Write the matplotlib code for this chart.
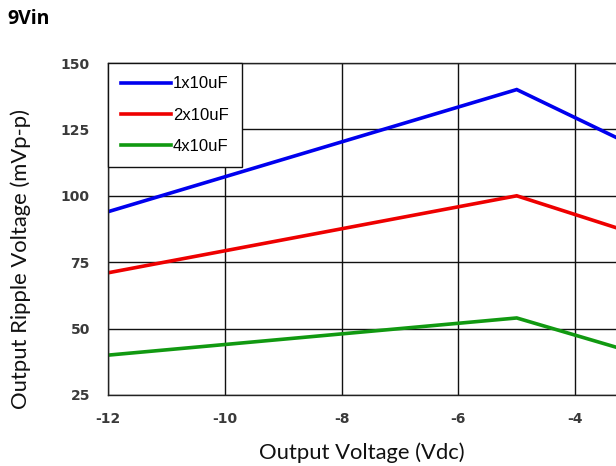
import matplotlib
matplotlib.use("Agg")
import matplotlib.pyplot as plt

plt.rcParams["axes.unicode_minus"] = False

x_vals = [-12, -5, -3.3]
series_names = ["1x10uF", "2x10uF", "4x10uF"]
y_1x = [94, 140, 122]
y_2x = [71, 100, 88]
y_4x = [40, 54, 43]
colors = ["#0000ee", "#ee0000", "#119911"]
x_ticks = [-12, -10, -8, -6, -4]
y_ticks = [25, 50, 75, 100, 125, 150]

fig = plt.figure(figsize=(6.16, 4.66), dpi=100)
ax = fig.add_axes([0.1753, 0.1524, 0.8247, 0.7124])

for ys, name, c in zip([y_1x, y_2x, y_4x], series_names, colors):
    ax.plot(x_vals, ys, color=c, lw=2.6, label=name, solid_joinstyle="miter")

ax.set_xlim(-12, -3.3)
ax.set_ylim(25, 150)
ax.set_xticks(x_ticks)
ax.set_yticks(y_ticks)
ax.grid(True, color="#111111", lw=1.0)
ax.set_axisbelow(True)
for s in ["left", "bottom", "top"]:
    ax.spines[s].set_color("#222222")
    ax.spines[s].set_linewidth(1.0)
ax.spines["right"].set_visible(False)
ax.tick_params(axis="x", length=0, pad=12, labelsize=10, labelcolor="#3a3a3a")
ax.tick_params(axis="y", length=0, pad=13, labelsize=10, labelcolor="#3a3a3a")
for lab in ax.get_xticklabels() + ax.get_yticklabels():
    lab.set_fontweight("bold")
    lab.set_family("DejaVu Sans")

ax.set_xlabel("Output Voltage (Vdc)", fontsize=15.8, family="Lato", color="#111111")
ax.set_ylabel("Output Ripple Voltage (mVp-p)", fontsize=15.8, family="Lato", color="#111111")
ax.xaxis.set_label_coords(0.5, -0.143)
ax.yaxis.set_label_coords(-0.152, 0.41)

leg = ax.legend(loc="upper left", bbox_to_anchor=(0.0, 1.0), frameon=True, fancybox=False,
                edgecolor="#111111", framealpha=1, borderaxespad=0, handlelength=3.0,
                handletextpad=0.1, labelspacing=0.98, borderpad=0.8,
                prop={"family": "Liberation Sans", "size": 12})
leg.get_frame().set_linewidth(1.0)

fig.text(0.012, 0.959, "9Vin", fontsize=14, fontweight="bold", family="Open Sans", va="center")

fig.savefig("out.png", dpi=100)
